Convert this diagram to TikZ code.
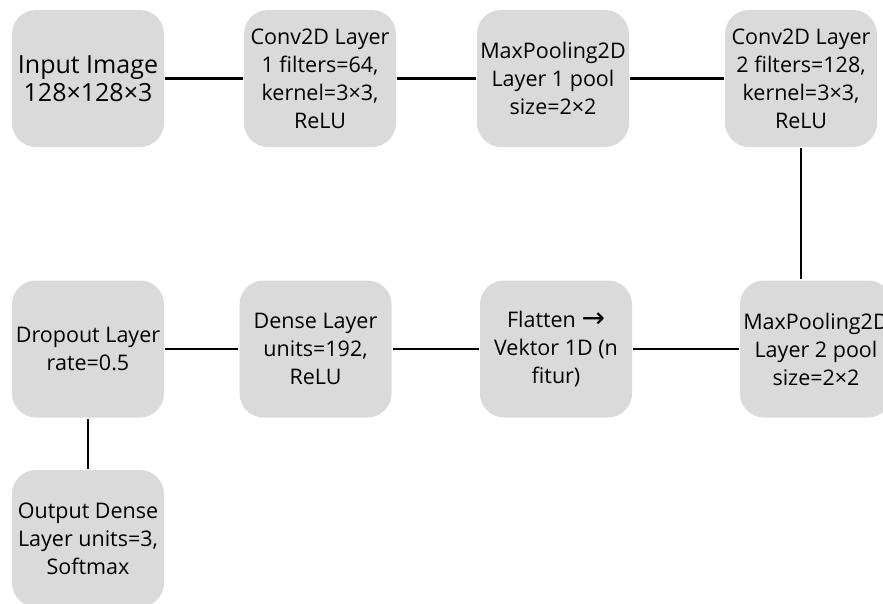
\documentclass[tikz,border=0pt]{standalone}
\usepackage{fontspec}
\setmainfont{Open Sans}
\newfontfamily\symfont{DejaVu Sans}
\usetikzlibrary{arrows.meta}
\definecolor{boxgray}{RGB}{218,218,218}

\begin{document}
\begin{tikzpicture}[
  x=1pt, y=-1pt,
  >=Latex,
  line width=2.2pt,
  layer/.style={fill=boxgray, rounded corners=24pt, minimum width=152pt, minimum height=137pt,
    align=center, inner sep=0pt, font=\fontsize{21.5}{28}\selectfont}
]

\useasboundingbox (0,0) rectangle (883,604);
\clip (0,0) rectangle (883,604);

% Top row
\node[layer, font=\fontsize{25}{28.5}\selectfont] (input) at (88, 78.5) {Input Image\\128×128×3};
\node[layer] (conv1) at (320, 78.5) {Conv2D Layer\\1 filters=64,\\kernel=3×3,\\ReLU};
\node[layer] (pool1) at (553, 78.5) {MaxPooling2D\\Layer 1 pool\\size=2×2};
\node[layer] (conv2) at (801, 78.5) {Conv2D Layer\\2 filters=128,\\kernel=3×3,\\ReLU};

% Second row, right to left
\node[layer] (pool2) at (816, 349) {MaxPooling2D\\Layer 2 pool\\size=2×2};
\node[layer] (flat)  at (556, 349) {Flatten {\symfont\fontsize{28}{28}\selectfont →}\\Vektor 1D (n\\fitur)};
\node[layer] (dense) at (315.5, 349) {Dense Layer\\units=192,\\ReLU};
\node[layer] (drop)  at (88, 349) {Dropout Layer\\rate=0.5};

% Output
\node[layer] (out) at (88, 538.5) {Output Dense\\Layer units=3,\\Softmax};

% Connectors
\draw (input) -- (conv1);
\draw (conv1) -- (pool1);
\draw (pool1) -- (conv2);
\draw (conv2) -- (conv2 |- pool2.north);
\draw (pool2) -- (flat);
\draw (flat) -- (dense);
\draw (dense) -- (drop);
\draw (drop) -- (out);

\end{tikzpicture}
\end{document}
